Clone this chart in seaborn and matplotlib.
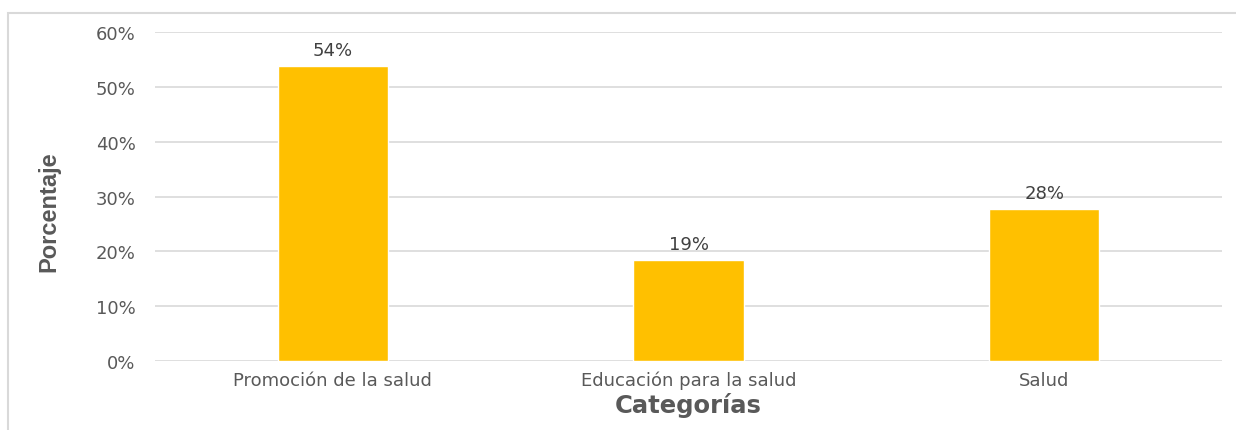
import pandas as pd
import numpy as np
import matplotlib.pyplot as plt
import seaborn as sns
from matplotlib.patches import Rectangle
from matplotlib.ticker import PercentFormatter

# data
categorias = ["Promoción de la salud", "Educación para la salud", "Salud"]
porcentajes = [0.538, 0.185, 0.277]
etiquetas = ["54%", "19%", "28%"]
y_ticks = [0.0, 0.1, 0.2, 0.3, 0.4, 0.5, 0.6]

df = pd.DataFrame({"Categoria": categorias, "Porcentaje": porcentajes})

sns.set_style("white")
plt.rcParams["font.family"] = ["DejaVu Sans"]

txt = "#595959"
grid = "#d9d9d9"

fig = plt.figure(figsize=(12.36, 4.31), dpi=100)
ax = fig.add_axes([0.1254, 0.160, 0.8633, 0.763])

sns.barplot(
    x="Categoria",
    y="Porcentaje",
    data=df,
    color="#ffc000",
    saturation=1,
    width=0.31,
    ax=ax,
    zorder=3
)

for p, lab in zip(ax.patches, etiquetas):
    ax.annotate(
        lab,
        (p.get_x() + p.get_width() / 2, p.get_height()),
        xytext=(0, 5),
        textcoords="offset points",
        ha="center",
        va="bottom",
        fontsize=13,
        color="#404040"
    )

ax.set_ylim(0, 0.6)
ax.set_yticks(y_ticks)
ax.yaxis.set_major_formatter(PercentFormatter(1.0, decimals=0))
ax.set_xlim(-0.5, 2.5)

for y in y_ticks:
    ax.axhline(y, color=grid, lw=1.2, zorder=1)

for s in ax.spines.values():
    s.set_visible(False)

ax.tick_params(axis="both", length=0, colors=txt, labelsize=13)
ax.tick_params(axis="y", pad=14)
ax.tick_params(axis="x", pad=7)

ax.set_xlabel("Categorías", fontsize=17.5, fontweight="bold", color=txt, labelpad=2)
ax.set_ylabel(
    "Porcentaje",
    fontsize=17,
    fontweight="bold",
    color=txt,
    family=["Liberation Sans"]
)
ax.yaxis.set_label_coords(-0.089, 0.456)

# light frame around the chart area
fig.patches.append(
    Rectangle((8 / 1236, -0.1), 1.2, 1 - 14 / 431 + 0.1,
              transform=fig.transFigure, fill=False,
              edgecolor="#d9d9d9", lw=1.5)
)

plt.savefig("out.png", dpi=100)
